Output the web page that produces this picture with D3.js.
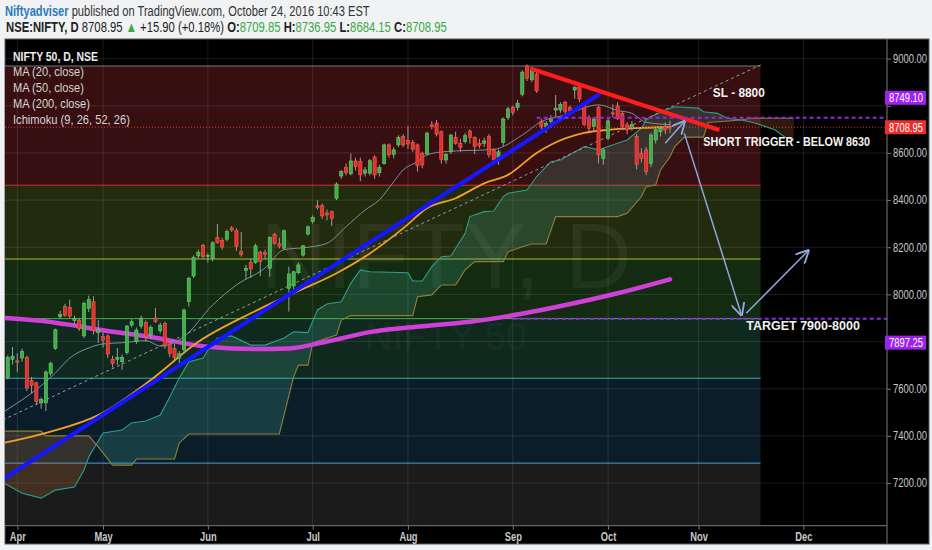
<!DOCTYPE html>
<html>
<head>
<meta charset="utf-8">
<script src="https://cdnjs.cloudflare.com/ajax/libs/d3/7.8.5/d3.min.js"></script>
<style>
body{margin:0;background:#f0f2f3;width:932px;height:550px;overflow:hidden;}
svg{position:absolute;left:0;top:0;}
</style>
</head>
<body>
<svg id="chart" width="932" height="550"></svg>
<script>
// ---- data ----
const holidays = ["2016-03-25","2016-04-14","2016-04-15","2016-04-19","2016-07-06","2016-08-15","2016-09-05","2016-09-13","2016-10-11","2016-10-12"];
const months = ["Apr","May","Jun","Jul","Aug","Sep","Oct","Nov","Dec"];
const priceTicks = [7200,7400,7600,7800,8000,8200,8400,8600,8800,9000];

// daily bars from 2016-03-30 to 2016-10-24: [open, high, low, close]
const bars = [
[7648,7742,7640,7733],[7725,7777,7702,7738],[7718,7750,7670,7713],[7730,7770,7715,7758],[7733,7740,7590,7603],
[7634,7650,7580,7614],[7625,7630,7530,7546],[7540,7563,7515,7555],[7540,7678,7505,7671],[7665,7715,7655,7708],
[7771,7855,7765,7850],[7905,7930,7895,7914],[7948,7960,7905,7912],[7945,7978,7900,7908],[7890,7910,7870,7899],
[7891,7900,7845,7855],[7824,7970,7815,7962],[7941,7995,7925,7979],[7969,7992,7830,7847],[7838,7891,7794,7850],
[7821,7840,7775,7806],[7824,7830,7730,7747],[7725,7740,7690,7707],[7725,7773,7701,7733],[7715,7745,7680,7733],
[7753,7870,7745,7866],[7870,7895,7860,7884],[7800,7860,7790,7849],[7866,7910,7855,7899],[7880,7890,7800,7820],
[7828,7870,7810,7860],[7900,7942,7880,7885],[7846,7880,7835,7870],[7877,7885,7770,7781],[7790,7800,7735,7749],
[7770,7790,7720,7731],[7730,7760,7700,7748],[7765,7940,7750,7934],[7969,8075,7948,8068],[8078,8165,8070,8157],
[8163,8190,8150,8179],[8208,8215,8150,8160],[8162,8175,8135,8165],[8153,8225,8140,8219],[8242,8299,8215,8220],
[8228,8240,8190,8201],[8234,8275,8225,8266],[8282,8290,8265,8273],[8270,8280,8185,8203],[8181,8265,8160,8170],
[8101,8125,8065,8111],[8135,8150,8070,8108],[8135,8215,8130,8206],[8179,8185,8078,8140],[8177,8190,8150,8170],
[8111,8245,8075,8241],[8255,8260,8210,8217],[8215,8240,8195,8205],[8196,8275,8190,8270],[8026,8118,7927,8087],
[8036,8100,8000,8096],[8092,8135,8085,8125],[8167,8210,8160,8206],[8256,8292,8250,8287],[8309,8335,8300,8327],
[8376,8400,8360,8368],[8376,8385,8320,8333],[8345,8360,8315,8337],[8351,8355,8290,8323],[8408,8475,8400,8468],
[8502,8527,8490,8521],[8539,8555,8505,8516],[8511,8598,8505,8566],[8566,8580,8525,8542],[8563,8580,8480,8507],
[8514,8540,8500,8528],[8514,8575,8505,8567],[8582,8590,8490,8507],[8516,8550,8500,8539],[8556,8640,8550,8634],
[8634,8640,8580,8592],[8594,8625,8577,8613],[8634,8675,8625,8666],[8669,8680,8625,8634],[8652,8715,8617,8638],
[8645,8655,8605,8616],[8634,8640,8521,8545],[8599,8605,8535,8549],[8596,8690,8590,8684],[8719,8735,8700,8711],
[8726,8740,8670,8680],[8690,8695,8555,8573],[8570,8600,8555,8594],[8605,8680,8595,8676],[8666,8690,8635,8641],
[8641,8660,8605,8624],[8648,8685,8640,8673],[8693,8700,8640,8665],[8665,8670,8595,8627],[8641,8660,8620,8631],
[8641,8665,8625,8651],[8669,8680,8580,8592],[8613,8620,8549,8570],[8580,8615,8550,8605],[8645,8750,8630,8744],
[8750,8795,8740,8787],[8792,8800,8760,8772],[8792,8825,8780,8811],[8849,8950,8840,8943],[8969,8975,8905,8917],
[8910,8960,8900,8952],[8934,8945,8855,8863],[8733,8745,8700,8712],[8712,8735,8685,8726],[8733,8760,8710,8747],
[8782,8846,8754,8790],[8782,8815,8770,8806],[8815,8820,8765,8775],[8792,8800,8760,8778],[8867,8885,8830,8877],
[8882,8885,8815,8829],[8806,8810,8715,8721],[8750,8760,8690,8705],[8712,8750,8690,8744],[8792,8800,8555,8592],
[8577,8620,8550,8613],[8662,8745,8655,8736],[8770,8806,8751,8769],[8800,8815,8740,8745],[8768,8775,8700,8712],
[8719,8730,8680,8698],[8705,8735,8695,8720],[8669,8680,8530,8552],[8599,8620,8560,8577],[8613,8625,8506,8521],
[8556,8685,8540,8676],[8655,8705,8640,8698],[8690,8712,8670,8705],[8712,8730,8680,8698],[8709.85,8736.95,8684.15,8708.95]
];

const ma20 = [["2016-03-29",7500],["2016-04-13",7667],["2016-04-21",7730],["2016-04-27",7773],["2016-05-02",7790],
["2016-05-06",7795],["2016-05-13",7804],["2016-05-18",7781],["2016-05-25",7821],["2016-06-02",7955],["2016-06-09",8040],
["2016-06-17",8112],["2016-06-23",8190],["2016-06-30",8200],["2016-07-07",8217],["2016-07-13",8287],["2016-07-19",8358],
["2016-07-22",8401],["2016-07-27",8478],["2016-07-29",8528],["2016-08-03",8563],["2016-08-05",8592],["2016-08-11",8606],
["2016-08-26",8615],["2016-09-06",8676],["2016-09-12",8733],["2016-09-20",8761],["2016-09-29",8804],["2016-10-05",8780],
["2016-10-10",8768],["2016-10-17",8730],["2016-10-24",8720]];

const ma50 = [["2016-03-28",7365],["2016-04-12",7418],["2016-04-29",7488],["2016-05-16",7637],["2016-05-30",7799],
["2016-06-14",7920],["2016-06-24",7997],["2016-07-11",8090],["2016-07-20",8174],["2016-07-29",8280],["2016-08-05",8365],
["2016-08-16",8408],["2016-08-24",8471],["2016-08-31",8507],["2016-09-09",8600],["2016-09-15",8635],["2016-09-26",8685],
["2016-10-03",8698],["2016-10-14",8706],["2016-10-24",8710]];

const ma200 = [["2016-03-28",7902],["2016-04-08",7888],["2016-04-20",7874],["2016-05-02",7848],["2016-05-16",7819],
["2016-06-01",7778],["2016-06-15",7768],["2016-06-24",7771],["2016-07-07",7800],["2016-07-20",7840],["2016-08-04",7865],
["2016-08-19",7884],["2016-08-31",7908],["2016-09-12",7934],["2016-09-26",7972],["2016-10-05",8005],["2016-10-24",8064]];

// Ichimoku leading spans (shifted 26 bars ahead)
const spanA = [["2016-03-28",7213],["2016-04-04",7157],["2016-04-08",7136],["2016-04-13",7170],["2016-04-22",7183],
["2016-04-26",7255],["2016-04-27",7310],["2016-05-02",7412],["2016-05-06",7425],["2016-05-10",7455],["2016-05-13",7463],
["2016-05-18",7488],["2016-05-20",7565],["2016-05-24",7645],["2016-05-26",7713],["2016-05-31",7730],["2016-06-01",7764],
["2016-06-03",7815],["2016-06-08",7824],["2016-06-14",7785],["2016-06-17",7785],["2016-06-23",7815],["2016-06-27",7841],
["2016-06-30",7838],["2016-07-04",7934],["2016-07-07",7959],["2016-07-12",7969],["2016-07-14",8047],["2016-07-18",8104],
["2016-07-20",8096],["2016-08-01",8092],["2016-08-02",8057],["2016-08-04",8057],["2016-08-08",8118],["2016-08-10",8160],
["2016-08-12",8163],["2016-08-18",8259],["2016-08-19",8330],["2016-08-24",8351],["2016-08-26",8354],["2016-08-30",8415],
["2016-08-31",8429],["2016-09-07",8443],["2016-09-09",8500],["2016-09-15",8563],["2016-09-19",8570],["2016-09-26",8627],
["2016-09-29",8613],["2016-10-03",8627],["2016-10-07",8655],["2016-10-14",8705],["2016-10-17",8740],["2016-10-18",8754],
["2016-10-21",8782],["2016-10-25",8796],["2016-11-01",8790],["2016-11-02",8775],["2016-11-07",8768],["2016-11-09",8747],
["2016-11-14",8740],["2016-11-17",8726],["2016-11-23",8698],["2016-11-25",8669],["2016-11-29",8655]];

const spanB = [["2016-03-28",7420],["2016-04-08",7420],["2016-04-11",7400],["2016-04-27",7400],["2016-04-29",7353],
["2016-05-04",7276],["2016-05-10",7276],["2016-05-11",7302],["2016-05-23",7302],["2016-05-24",7370],["2016-05-26",7408],
["2016-06-22",7408],["2016-06-27",7651],["2016-06-28",7700],["2016-06-30",7700],["2016-07-01",7794],["2016-07-11",7828],
["2016-07-12",7891],["2016-07-14",7910],["2016-08-02",7910],["2016-08-03",7990],["2016-08-08",7998],["2016-08-10",8040],
["2016-08-16",8040],["2016-08-18",8104],["2016-08-22",8139],["2016-08-30",8139],["2016-08-31",8181],["2016-09-06",8202],
["2016-09-08",8214],["2016-09-14",8214],["2016-09-16",8330],["2016-10-05",8330],["2016-10-07",8344],["2016-10-14",8415],
["2016-10-17",8457],["2016-10-19",8464],["2016-10-20",8528],["2016-10-24",8584],["2016-10-25",8627],["2016-10-27",8667],
["2016-11-02",8667],["2016-11-03",8729],["2016-11-14",8740],["2016-11-16",8747],["2016-11-29",8747]];

// Fibonacci retracement between swing low and swing high
const fibLow = 6825.8, fibHigh = 8968.7;
const fibRatios = [0, 0.236, 0.382, 0.5, 0.618, 0.786, 1];
const fibSpan = ["2016-03-28", "2016-11-18"];

// drawings
const blueTrend = [["2016-03-29",7216],["2016-09-29",8847]];
const redTrend = [["2016-09-08",8956],["2016-11-07",8699]];
const dashTrend = [["2016-03-29",7468],["2016-11-18",8973]];
const rays = [["2016-09-09",8749.10],["2016-09-01",7897.25]];
const lastClose = 8708.95;
const arrows = [
  [["2016-10-21",8641],["2016-10-27",8733]],
  [["2016-10-27",8684],["2016-11-14",7913]],
  [["2016-11-15",7920],["2016-12-02",8185]]
];
const notes = [
  ["SL - 8800","2016-11-04",8838],
  ["SHORT TRIGGER - BELOW 8630","2016-11-02",8630],
  ["TARGET 7900-8000","2016-11-15",7849]
];
const legend = ["MA (20, close)","MA (50, close)","MA (200, close)","Ichimoku (9, 26, 52, 26)"];

// ---- calendar / scales ----
const calendar = [];
for (let t = new Date(Date.UTC(2016,2,28)); t <= new Date(Date.UTC(2016,11,30)); t.setUTCDate(t.getUTCDate()+1)) {
  const wd = t.getUTCDay(), s = t.toISOString().slice(0,10);
  if (wd > 0 && wd < 6 && !holidays.includes(s)) calendar.push(s);
}
const pos = new Map(calendar.map((d,i) => [d,i]));
const firstBar = pos.get("2016-03-30");

const P = {l:5, t:39.3, r:887, b:525.7};
const x = d3.scaleLinear().domain([pos.get("2016-04-01"), pos.get("2016-10-24")]).range([17.3, 670]);
const y = d3.scaleLinear().domain([7019, 9082]).range([P.b, P.t]);
const xd = d => x(pos.get(d));

const svg = d3.select("#chart");
const SANS = "'Liberation Sans',Arial,sans-serif";

// squeeze a text horizontally to a target width (screenshot font is condensed)
function fit(sel, w) {
  sel.each(function() {
    const n = this, len = n.getComputedTextLength();
    if (!len) return;
    const k = Math.min(1, w / len), x0 = +(n.getAttribute("x") || 0);
    n.setAttribute("transform", `translate(${x0},0) scale(${k},1) translate(${-x0},0)`);
  });
}

// chart frame
svg.append("rect").attr("x",5).attr("y",39).attr("width",924).attr("height",505).attr("fill","#000").attr("stroke","#5a5a5a");

svg.append("clipPath").attr("id","plotClip").append("rect")
  .attr("x",P.l).attr("y",P.t).attr("width",P.r-P.l).attr("height",P.b-P.t);
const g = svg.append("g").attr("clip-path","url(#plotClip)");

// fib bands
const fibVal = r => fibHigh - (fibHigh - fibLow) * r;
const fibFill = ["#380f11","#232b0e","#132b10","#0f291e","#0c1d2a","#1b1b1b"];
const fibLine = ["#7a7a7a","#d03232","#a8c234","#4caf4c","#3db3a0","#4d9fd2","#6a6a6a"];
const fx0 = xd(fibSpan[0]), fx1 = xd(fibSpan[1]);
fibRatios.slice(0,-1).forEach((r,i) => {
  g.append("rect").attr("x",fx0).attr("width",fx1-fx0)
    .attr("y",y(fibVal(r))).attr("height",y(fibVal(fibRatios[i+1]))-y(fibVal(r)))
    .attr("fill",fibFill[i]);
});

// grid
const monthTicks = months.map((m,i) => calendar.find(d => +d.slice(5,7) === i+4));
g.selectAll(".hg").data(priceTicks).join("line")
  .attr("x1",P.l).attr("x2",P.r).attr("y1",d=>y(d)).attr("y2",d=>y(d))
  .attr("stroke","rgba(255,255,255,0.1)");
g.selectAll(".vg").data(monthTicks).join("line")
  .attr("x1",d=>xd(d)).attr("x2",d=>xd(d)).attr("y1",P.t).attr("y2",P.b)
  .attr("stroke","rgba(255,255,255,0.1)");

fibRatios.forEach((r,i) => {
  g.append("line").attr("x1",fx0).attr("x2",fx1).attr("y1",y(fibVal(r))).attr("y2",y(fibVal(r)))
    .attr("stroke",fibLine[i]).attr("stroke-width",1);
});

// watermark
g.append("text").attr("x",446).attr("y",288).attr("text-anchor","middle")
  .attr("font-family",SANS).attr("font-size",92)
  .attr("fill","rgba(255,255,255,0.055)").text("NIFTY, D");
g.append("text").attr("x",446).attr("y",350).attr("text-anchor","middle")
  .attr("font-family",SANS).attr("font-size",38)
  .attr("fill","rgba(255,255,255,0.055)").text("NIFTY 50");

// ichimoku cloud
const line = d3.line().x(d=>xd(d[0])).y(d=>y(d[1]));
const cloudPath = line([...spanA, ...spanB.slice().reverse()]) + "Z";
const aboveB = d3.area().x(d=>xd(d[0])).y0(P.t-20).y1(d=>y(d[1]));
const belowB = d3.area().x(d=>xd(d[0])).y0(P.b+20).y1(d=>y(d[1]));
svg.append("clipPath").attr("id","bullClip").append("path").attr("d",aboveB(spanB));
svg.append("clipPath").attr("id","bearClip").append("path").attr("d",belowB(spanB));
g.append("g").attr("clip-path","url(#bullClip)").append("path").attr("d",cloudPath).attr("fill","rgba(70,185,160,0.2)");
g.append("g").attr("clip-path","url(#bearClip)").append("path").attr("d",cloudPath).attr("fill","rgba(200,125,60,0.22)");
g.append("path").attr("d",line(spanA)).attr("fill","none").attr("stroke","#2b9e8e").attr("stroke-width",1.1);
g.append("path").attr("d",line(spanB)).attr("fill","none").attr("stroke","#8f7f3c").attr("stroke-width",1.1);

// moving averages
const smooth = d3.line().x(d=>xd(d[0])).y(d=>y(d[1])).curve(d3.curveMonotoneX);
g.append("path").attr("d",smooth(ma200)).attr("fill","none").attr("stroke","#d040d6").attr("stroke-width",4.5).attr("stroke-linecap","round");
g.append("path").attr("d",smooth(ma50)).attr("fill","none").attr("stroke","#f0a02a").attr("stroke-width",1.8);
g.append("path").attr("d",smooth(ma20)).attr("fill","none").attr("stroke","#74939a").attr("stroke-width",1);

// dashed trend line
g.append("path").attr("d",line(dashTrend)).attr("stroke","#9a9a9a").attr("stroke-width",1).attr("stroke-dasharray","3,3");

// candles
const cw = 3.2;
const cg = g.append("g");
bars.forEach((b,i) => {
  const cx = x(firstBar + i), up = b[3] >= b[0];
  cg.append("line").attr("x1",cx).attr("x2",cx).attr("y1",y(b[1])).attr("y2",y(b[2]))
    .attr("stroke","#9c9c9c").attr("stroke-width",1);
  const top = y(Math.max(b[0],b[3])), bot = y(Math.min(b[0],b[3]));
  cg.append("rect").attr("x",cx-cw/2).attr("y",top).attr("width",cw).attr("height",Math.max(1,bot-top))
    .attr("fill",up ? "#3fae48" : "#e0322c").attr("stroke",up ? "#6ccb73" : "#ff5a50").attr("stroke-width",0.6);
});

// trend lines
g.append("path").attr("d",line(blueTrend)).attr("stroke","#1616ff").attr("stroke-width",4.2).attr("stroke-linecap","round");
g.append("path").attr("d",line(redTrend)).attr("stroke","#ff1c1c").attr("stroke-width",4.2).attr("stroke-linecap","round");

// horizontal rays + last price
rays.forEach(r => {
  g.append("line").attr("x1",xd(r[0])).attr("x2",P.r).attr("y1",y(r[1])).attr("y2",y(r[1]))
    .attr("stroke","#8a2be2").attr("stroke-width",2).attr("stroke-dasharray","4,3");
});
g.append("line").attr("x1",P.l).attr("x2",P.r).attr("y1",y(lastClose)).attr("y2",y(lastClose))
  .attr("stroke","#e8302a").attr("stroke-width",1).attr("stroke-dasharray","1,2");

// arrows
svg.append("defs").append("marker").attr("id","head").attr("viewBox","0 0 10 10")
  .attr("refX",9).attr("refY",5).attr("markerWidth",9).attr("markerHeight",9).attr("orient","auto")
  .append("path").attr("d","M0,0 L10,5 L0,10").attr("fill","none").attr("stroke","#8ea6da").attr("stroke-width",1.4);
arrows.forEach(a => {
  g.append("path").attr("d",line(a)).attr("stroke","#8ea6da").attr("stroke-width",1.5).attr("marker-end","url(#head)");
});

// notes
const noteWidth = [52, 167, 118];
notes.forEach((n,i) => {
  g.append("text").attr("x",xd(n[1])).attr("y",y(n[2])).attr("fill","#f2f2f2")
    .attr("font-family",SANS).attr("font-size",12.5).attr("font-weight","bold")
    .text(n[0]).call(fit, noteWidth[i]);
});

// price tags on the axis (label boxes sit off their lines, as in the screenshot)
const tags = [[8749.10,"#a020f0",-20],[lastClose,"#e8302a",0],[7897.25,"#a020f0",24]];
const tagY = tags.map(t => y(t[0]) + t[2]);

// axes
const yAxis = svg.append("g").attr("transform",`translate(${P.r},0)`)
  .call(d3.axisRight(y).tickValues(priceTicks).tickFormat(d3.format(".2f")).tickSize(4).tickPadding(2));
yAxis.select(".domain").attr("stroke","#7a7a7a").attr("d",`M0,${P.t}V${P.b+18}`);
yAxis.selectAll(".tick line").attr("stroke","#7a7a7a");
yAxis.selectAll("text").attr("fill","#c9c9c9").attr("font-family",SANS).attr("font-size",12).call(fit, 34);
// tick labels hidden behind a price tag are dropped
yAxis.selectAll(".tick").filter(d => tagY.some(ty => Math.abs(y(d) - ty) < 12)).select("text").remove();

const xAxis = svg.append("g").attr("transform",`translate(0,${P.b})`)
  .call(d3.axisBottom(x).tickValues(monthTicks.map(d=>pos.get(d))).tickFormat((d,i)=>months[i]).tickSize(4).tickPadding(3));
xAxis.select(".domain").attr("stroke","#7a7a7a").attr("d",`M${P.l},0H${P.r}`);
xAxis.selectAll(".tick line").attr("stroke","#7a7a7a");
xAxis.selectAll("text").attr("fill","#c9c9c9").attr("font-family",SANS).attr("font-size",12).attr("font-weight","bold")
  .attr("transform","scale(0.78,1)");

tags.forEach((t,i) => {
  const cy = tagY[i];
  svg.append("rect").attr("x",P.r-2).attr("y",cy-7).attr("width",41).attr("height",14).attr("fill",t[1]);
  svg.append("text").attr("x",P.r+2).attr("y",cy+4.5).attr("fill","#fff")
    .attr("font-family",SANS).attr("font-size",12)
    .text(d3.format(".2f")(t[0])).call(fit, 34);
});

// legend
svg.append("text").attr("x",13).attr("y",61).attr("fill","#ececec").attr("font-weight","bold")
  .attr("font-family",SANS).attr("font-size",12.5).text("NIFTY 50, D, NSE").call(fit, 85);
legend.forEach((t,i) => {
  svg.append("text").attr("x",13).attr("y",76.5 + i*15.8).attr("fill","#d4d4d4")
    .attr("font-family",SANS).attr("font-size",12.5).text(t).call(fit, [71,71,77,117][i]);
});

// header
const h1 = svg.append("text").attr("x",5).attr("y",16).attr("font-family",SANS).attr("font-size",14.5).attr("fill","#333");
h1.append("tspan").attr("fill","#2a7bbd").attr("font-weight","bold").text("Niftyadviser");
h1.append("tspan").text(" published on TradingView.com, October 24, 2016 10:43 EST");
h1.call(fit, 365);
const h2 = svg.append("text").attr("x",6).attr("y",32).attr("font-family",SANS).attr("font-size",14.5).attr("fill","#222");
const G = "#3aa845";
[["NSE:NIFTY, D","#222","bold"],[" 8708.95 ","#222","normal"],["▲",G,"normal"],[" +15.90 (+0.18%) ","#222","normal"],
 ["O:","#222","bold"],["8709.85",G,"normal"],[" H:","#222","bold"],["8736.95",G,"normal"],
 [" L:","#222","bold"],["8684.15",G,"normal"],[" C:","#222","bold"],["8708.95",G,"normal"]]
 .forEach(s => h2.append("tspan").attr("fill",s[1]).attr("font-weight",s[2]).text(s[0]));
h2.call(fit, 441);
</script>
</body>
</html>
